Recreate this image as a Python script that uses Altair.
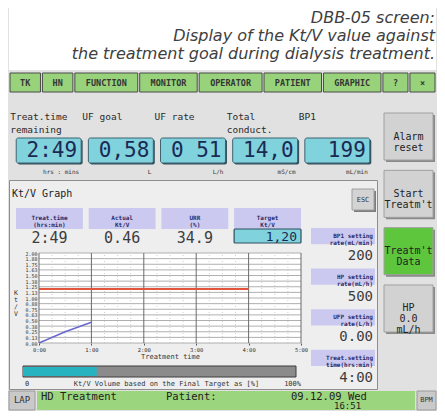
import altair as alt
import pandas as pd

# ---------------- data ----------------
caption_lines = ["DBB-05 screen:",
                 "Display of the Kt/V value against",
                 "the treatment goal during dialysis treatment."]
nav_labels = ["TK", "HN", "FUNCTION", "MONITOR", "OPERATOR", "PATIENT", "GRAPHIC", "?", "×"]
param_labels = ["Treat.time\nremaining", "UF goal", "UF rate", "Total\nconduct.", "BP1"]
param_values = ["2:49", "0,58", "0 51", "14,0", "199"]
param_units = ["hrs : mins", "L", "L/h", "mS/cm", "mL/min"]
side_buttons = ["Alarm\nreset", "Start\nTreatm't", "Treatm't\nData", "HP\n0.0\nmL/h"]
active_button = "Treatm't\nData"
graph_title = "Kt/V Graph"
esc_label = "ESC"
header_labels = ["Treat.time\n(hrs:min)", "Actual\nKt/V", "URR\n(%)", "Target\nKt/V"]
header_values = ["2:49", "0.46", "34.9", "1,20"]
setting_labels = ["BP1 setting\nrate(mL/min)", "HP setting\nrate(mL/h)",
                  "UFP setting\nrate(L/h)", "Treat.setting\ntime(hrs:min)"]
setting_values = ["200", "500", "0.00", "4:00"]
x_ticks_h = [0, 1, 2, 3, 4, 5]
x_minor_h = [0.25, 0.5, 0.75, 1.25, 1.5, 1.75, 2.25, 2.5, 2.75,
             3.25, 3.5, 3.75, 4.25, 4.5, 4.75]
y_ticks = [0.0, 0.125, 0.25, 0.375, 0.5, 0.625, 0.75, 0.875, 1.0,
           1.125, 1.25, 1.375, 1.5, 1.625, 1.75, 1.875, 2.0]
ktv_hours = [0.0, 0.5, 1.0]
ktv_actual = [0.0, 0.25, 0.46]
target_ktv = 1.20
treat_setting_h = 4.0
y_title = "K\nt\n/\nV"
x_title = "Treatment time"
progress_pct = 27
progress_ticks = [0, 100]
progress_tick_labels = ["0", "100%"]
progress_caption = "Kt/V Volume based on the Final Target as [%]"
status_left = "LAP"
status_right = "BPM"
status_items = ["HD Treatment", "Patient:", "09.12.09 Wed"]
status_time = "16:51"

# ---------------- style ----------------
MONO = "DejaVu Sans Mono"
CAPFONT = "DejaVu Sans"
BG = "#e1e1e1"
PANEL_BG = "#eeeeee"
CYAN = "#80d2dc"
LAV = "#cbc9f0"
NAVY = "#1b2a55"
LAVTXT = "#2b2b66"
W, H_CAP, H_NAV, H_MID, H_STATUS = 427, 62, 24, 294, 20
W_LEFT, W_RIGHT = 368, 59
H_PARAM, H_PANEL = 85, 209

# ---------------- caption ----------------
cap_df = pd.DataFrame({"line": caption_lines, "i": list(range(len(caption_lines)))})
caption = alt.Chart(cap_df).mark_text(
    align="right", baseline="alphabetic", font=CAPFONT, fontStyle="italic",
    fontSize=16, color="#404040"
).encode(
    x=alt.value(W - 1),
    y=alt.Y("i:O", axis=None, scale=alt.Scale(type="point", range=[15, 51], padding=0)),
    text="line:N",
).properties(width=W, height=H_CAP, view=alt.ViewBackground(fill="white"))

# ---------------- nav bar ----------------
widths = [20 + 5.5 * len(s) for s in nav_labels]
gap = 2.0
x0 = []
pos = 0.0
for w in widths:
    x0.append(pos)
    pos += w + gap
total = pos - gap
nav_df = pd.DataFrame({"label": nav_labels, "x0": x0,
                       "x1": [a + w for a, w in zip(x0, widths)]})
nav_df["xm"] = (nav_df["x0"] + nav_df["x1"]) / 2
nsc = alt.Scale(domain=[0, total], range=[1, W - 1], nice=False, zero=False)
nav_btn = alt.Chart(nav_df).mark_rect(color="#98d37b", stroke="#4a4a4a", strokeWidth=1).encode(
    x=alt.X("x0:Q", scale=nsc, axis=None), x2="x1:Q", y=alt.value(3), y2=alt.value(22))
nav_txt = alt.Chart(nav_df).mark_text(font=MONO, fontSize=8.5, fontWeight="bold",
                                      color="#353535", baseline="middle").encode(
    x=alt.X("xm:Q", scale=nsc, axis=None), y=alt.value(12.5), text="label:N")
nav = alt.layer(nav_btn, nav_txt).properties(width=W, height=H_NAV)

# ---------------- parameter row ----------------
par_df = pd.DataFrame({"label": param_labels, "value": param_values, "unit": param_units})
psc = alt.Scale(domain=param_labels, range=[0, W_LEFT], paddingInner=0.1, paddingOuter=0.1)


def pxe(bp=None):
    kw = dict(axis=None, scale=psc)
    if bp is not None:
        kw["bandPosition"] = bp
    return alt.X("label:N", **kw)


p_shadow = alt.Chart(par_df).mark_rect(color="#33505e", xOffset=1.5, x2Offset=1.5,
                                       yOffset=1.5, y2Offset=1.5, cornerRadius=2).encode(
    x=pxe(), y=alt.value(44), y2=alt.value(69))
p_box = alt.Chart(par_df).mark_rect(color=CYAN, stroke="#3f6371", strokeWidth=1, cornerRadius=2).encode(
    x=pxe(), y=alt.value(44), y2=alt.value(69))
p_val = alt.Chart(par_df).mark_text(align="right", baseline="middle", font=MONO, fontSize=21,
                                    color=NAVY, dx=-4).encode(
    x=pxe(1), y=alt.value(57), text="value:N")
p_lab = alt.Chart(par_df).mark_text(align="left", baseline="top", lineBreak="\n", lineHeight=13,
                                    font=MONO, fontSize=9.5, color="#2a2a2a", dx=-6).encode(
    x=pxe(0), y=alt.value(18), text="label:N")
p_unit = alt.Chart(par_df).mark_text(align="right", baseline="middle", font=MONO, fontSize=6,
                                     color="#333333", dx=-2).encode(
    x=pxe(1), y=alt.value(78), text="unit:N")
params = alt.layer(p_shadow, p_box, p_val, p_lab, p_unit).properties(width=W_LEFT, height=H_PARAM)

# ---------------- graph panel ----------------
title_l = alt.Chart(pd.DataFrame({"t": [graph_title]})).mark_text(
    align="left", baseline="middle", font=MONO, fontSize=10, color="#222222").encode(
    x=alt.value(3), y=alt.value(14), text="t:N")
esc_df = pd.DataFrame({"t": [esc_label]})
esc_sh = alt.Chart(esc_df).mark_rect(color="#7d7d7d").encode(
    x=alt.value(345), x2=alt.value(367), y=alt.value(11), y2=alt.value(32))
esc_btn = alt.Chart(esc_df).mark_rect(color="#d3d3d3", stroke="#a0a0a0").encode(
    x=alt.value(343), x2=alt.value(365), y=alt.value(9), y2=alt.value(30))
esc_txt = alt.Chart(esc_df).mark_text(font=MONO, fontSize=7, color="#333333", baseline="middle").encode(
    x=alt.value(354), y=alt.value(19.5), text="t:N")

# header boxes
hdr_df = pd.DataFrame({"label": header_labels, "value": header_values})
hdr_df["boxed"] = hdr_df["label"] == header_labels[-1]
hsc = alt.Scale(domain=header_labels, range=[7, 292], paddingInner=0.08, paddingOuter=0)


def hx(bp=None):
    kw = dict(axis=None, scale=hsc)
    if bp is not None:
        kw["bandPosition"] = bp
    return alt.X("label:N", **kw)


h_box = alt.Chart(hdr_df).mark_rect(color=LAV).encode(x=hx(), y=alt.value(28), y2=alt.value(49))
h_lab = alt.Chart(hdr_df).mark_text(lineBreak="\n", lineHeight=7, font=MONO, fontSize=6,
                                    fontWeight="bold", color=LAVTXT, baseline="middle").encode(
    x=hx(0.5), y=alt.value(38), text="label:N")
h_val = alt.Chart(hdr_df).transform_filter("!datum.boxed").mark_text(
    font=MONO, fontSize=15, color="#3d3d3d", baseline="middle").encode(
    x=hx(0.5), y=alt.value(58), text="value:N")
h_tbox = alt.Chart(hdr_df).transform_filter("datum.boxed").mark_rect(
    color=CYAN, stroke="#2f4f5c", strokeWidth=1.2, cornerRadius=1).encode(
    x=hx(), y=alt.value(49), y2=alt.value(63))
h_tval = alt.Chart(hdr_df).transform_filter("datum.boxed").mark_text(
    align="right", font=MONO, fontSize=13, color=NAVY, baseline="middle", dx=-4).encode(
    x=hx(1), y=alt.value(56.5), text="value:N")
header = alt.layer(h_box, h_lab, h_val, h_tbox, h_tval)

# plot
xs = alt.Scale(domain=[x_ticks_h[0], x_ticks_h[-1]], range=[30, 292], nice=False, zero=False)
ys = alt.Scale(domain=[y_ticks[0], y_ticks[-1]], range=[163, 73], nice=False, zero=False)
XAX = alt.Axis(values=x_ticks_h, labelExpr="floor(datum.value) + ':00'", orient="bottom",
               offset=-(H_PANEL - 163), title=x_title, titleFont=MONO, titleFontSize=7,
               titleFontWeight="normal", titleColor="#333333", titlePadding=0,
               labelFont=MONO, labelFontSize=5.5, labelColor="#333333", labelPadding=2,
               labelFlush=False, labelOverlap=False, domain=False, ticks=True, tickSize=2,
               tickColor="#555555", grid=False)
YAX = alt.Axis(values=y_ticks, format=".2f", orient="left", offset=-30, title=None,
               labelFont=MONO, labelFontSize=5, labelColor="#333333", labelPadding=2,
               labelOverlap=False, labelFlush=False, domain=False, ticks=False, grid=False)


def PX():
    return alt.X("h:Q", scale=xs, axis=XAX)


def PY():
    return alt.Y("k:Q", scale=ys, axis=YAX)


pl_bg = alt.Chart(pd.DataFrame({"h": [x_ticks_h[0]], "h2": [x_ticks_h[-1]],
                                "k": [y_ticks[0]], "k2": [y_ticks[-1]]})).mark_rect(color="white").encode(
    x=PX(), x2="h2:Q", y=PY(), y2="k2:Q")
pl_hgrid = alt.Chart(pd.DataFrame({"k": y_ticks, "h": x_ticks_h[0], "h2": x_ticks_h[-1]})).mark_rule(
    color="#9c9c9c", strokeWidth=0.8).encode(x=PX(), x2="h2:Q", y=PY())
pl_vminor = alt.Chart(pd.DataFrame({"h": x_minor_h, "k": y_ticks[0], "k2": y_ticks[-1]})).mark_rule(
    color="#c2c2c2", strokeWidth=0.8, strokeDash=[1, 2]).encode(x=PX(), y=PY(), y2="k2:Q")
pl_vmajor = alt.Chart(pd.DataFrame({"h": x_ticks_h, "k": y_ticks[0], "k2": y_ticks[-1]})).mark_rule(
    color="#6a6a6a", strokeWidth=1).encode(x=PX(), y=PY(), y2="k2:Q")
pl_target = alt.Chart(pd.DataFrame({"h": [x_ticks_h[0]], "h2": [treat_setting_h], "k": [target_ktv]})).mark_rule(
    color="#e2553c", strokeWidth=2).encode(x=PX(), x2="h2:Q", y=PY())
pl_line = alt.Chart(pd.DataFrame({"h": ktv_hours, "k": ktv_actual})).mark_line(
    color="#6a68cf", strokeWidth=1.5).encode(x=PX(), y=PY())
pl_ytitle = alt.Chart(pd.DataFrame({"t": [y_title]})).mark_text(
    lineBreak="\n", lineHeight=7, font=MONO, fontSize=6.5, color="#333333", baseline="middle").encode(
    x=alt.value(7), y=alt.value(113), text="t:N")
plot = alt.layer(pl_bg, pl_hgrid, pl_vminor, pl_vmajor, pl_target, pl_line)

# settings column
set_df = pd.DataFrame({"label": setting_labels, "value": setting_values})
ssc = alt.Scale(domain=setting_labels, range=[48, 186], paddingInner=0.6, paddingOuter=0)
SY = alt.Y("label:N", axis=None, scale=ssc)
s_box = alt.Chart(set_df).mark_rect(color=LAV).encode(y=SY, x=alt.value(302), x2=alt.value(366))
s_lab = alt.Chart(set_df).mark_text(lineBreak="\n", lineHeight=7, align="right", baseline="middle",
                                    font=MONO, fontSize=6, fontWeight="bold", color=LAVTXT).encode(
    y=SY, x=alt.value(364), text="label:N")
s_val = alt.Chart(set_df).mark_text(align="right", baseline="middle", font=MONO, fontSize=14,
                                    color="#3d3d3d", dy=20).encode(
    y=SY, x=alt.value(364), text="value:N")
settings = alt.layer(s_box, s_lab, s_val)

# progress bar
pgs = alt.Scale(domain=[progress_ticks[0], progress_ticks[-1]], range=[14, 287], nice=False, zero=False)
PG = alt.X("p:Q", scale=pgs, axis=None)
pg_track = alt.Chart(pd.DataFrame({"p": [progress_ticks[0]], "p2": [progress_ticks[-1]]})).mark_rect(
    color="#8b8b8b", stroke="#3c3c3c", strokeWidth=1).encode(
    x=PG, x2="p2:Q", y=alt.value(186), y2=alt.value(197))
pg_fill = alt.Chart(pd.DataFrame({"p": [progress_ticks[0]], "p2": [progress_pct]})).mark_rect(
    color="#27b3c0").encode(x=PG, x2="p2:Q", y=alt.value(187), y2=alt.value(196))
pg_t0 = alt.Chart(pd.DataFrame({"p": [progress_ticks[0]], "t": [progress_tick_labels[0]]})).mark_text(
    align="left", baseline="middle", font=MONO, fontSize=7, color="#333333", dx=2).encode(
    x=PG, y=alt.value(204), text="t:N")
pg_t1 = alt.Chart(pd.DataFrame({"p": [progress_ticks[-1]], "t": [progress_tick_labels[-1]]})).mark_text(
    align="right", baseline="middle", font=MONO, fontSize=7, color="#333333", dx=5).encode(
    x=PG, y=alt.value(204), text="t:N")
pg_cap = alt.Chart(pd.DataFrame({"p": [(progress_ticks[0] + progress_ticks[-1]) / 2],
                                 "t": [progress_caption]})).mark_text(
    align="center", baseline="middle", font=MONO, fontSize=7, color="#333333", dx=7).encode(
    x=PG, y=alt.value(204), text="t:N")
progress = alt.layer(pg_track, pg_fill, pg_t0, pg_t1, pg_cap)

panel = alt.layer(
    title_l, esc_sh, esc_btn, esc_txt, header, plot, pl_ytitle, settings, progress
).resolve_scale(x="independent", y="independent").properties(
    width=W_LEFT, height=H_PANEL,
    view=alt.ViewBackground(fill=PANEL_BG, stroke="#8e8e8e", strokeWidth=1))

# ---------------- right button column ----------------
side_df = pd.DataFrame({"label": side_buttons})
side_df["active"] = side_df["label"] == active_button
sysc = alt.Scale(domain=side_buttons, range=[19, 238], paddingInner=0.18, paddingOuter=0)
SY2 = alt.Y("label:N", axis=None, scale=sysc)
sb_sh = alt.Chart(side_df).mark_rect(color="#8a8a8a", yOffset=2, y2Offset=2).encode(
    y=SY2, x=alt.value(8), x2=alt.value(57))
sb = alt.Chart(side_df).mark_rect(stroke="#a0a0a0", strokeWidth=1).encode(
    y=SY2, x=alt.value(6), x2=alt.value(55),
    color=alt.condition(alt.datum.active, alt.value("#5ec63c"), alt.value("#d2d2d2")))
sb_txt = alt.Chart(side_df).mark_text(lineBreak="\n", lineHeight=11, font=MONO, fontSize=10,
                                      color="#232323", baseline="middle").encode(
    y=SY2, x=alt.value(30.5), text="label:N")
right_col = alt.layer(sb_sh, sb, sb_txt).properties(width=W_RIGHT, height=H_MID)

left = alt.vconcat(params, panel, spacing=0)
mid = alt.hconcat(left, right_col, spacing=0)

# ---------------- status bar ----------------
one = pd.DataFrame({"a": [0]})
st_bar = alt.Chart(one).mark_rect(color="#9bd57d").encode(
    x=alt.value(28), x2=alt.value(406), y=alt.value(1), y2=alt.value(20))
st_lap = alt.Chart(pd.DataFrame({"t": [status_left]})).mark_rect(color="#c9c9c9", stroke="#9a9a9a").encode(
    x=alt.value(0), x2=alt.value(26), y=alt.value(1), y2=alt.value(20))
st_lap_t = alt.Chart(pd.DataFrame({"t": [status_left]})).mark_text(
    font=MONO, fontSize=9, color="#333333", baseline="middle").encode(
    x=alt.value(13), y=alt.value(10), text="t:N")
st_bpm = alt.Chart(pd.DataFrame({"t": [status_right]})).mark_rect(color="#c9c9c9", stroke="#9a9a9a").encode(
    x=alt.value(408), x2=alt.value(427), y=alt.value(1), y2=alt.value(20))
st_bpm_t = alt.Chart(pd.DataFrame({"t": [status_right]})).mark_text(
    font=MONO, fontSize=7, color="#333333", baseline="middle").encode(
    x=alt.value(417.5), y=alt.value(10), text="t:N")
st_txt = alt.Chart(pd.DataFrame({"t": status_items})).mark_text(
    align="left", baseline="middle", font=MONO, fontSize=10.5, color="#222222").encode(
    x=alt.X("t:N", axis=None, scale=alt.Scale(type="point", domain=status_items, range=[32, 282], padding=0)),
    y=alt.value(7), text="t:N")
st_time = alt.Chart(pd.DataFrame({"t": [status_time]})).mark_text(
    align="left", baseline="middle", font=MONO, fontSize=9, color="#222222").encode(
    x=alt.value(325), y=alt.value(16), text="t:N")
status = alt.layer(st_bar, st_lap, st_lap_t, st_bpm, st_bpm_t, st_txt, st_time).properties(
    width=W, height=H_STATUS)

chart = alt.vconcat(caption, nav, mid, status, spacing=0).properties(
    padding=0, background=BG
).configure_view(stroke=None).configure_concat(spacing=0)

chart.save("out.html", embed_options={"renderer": "svg", "actions": False})
